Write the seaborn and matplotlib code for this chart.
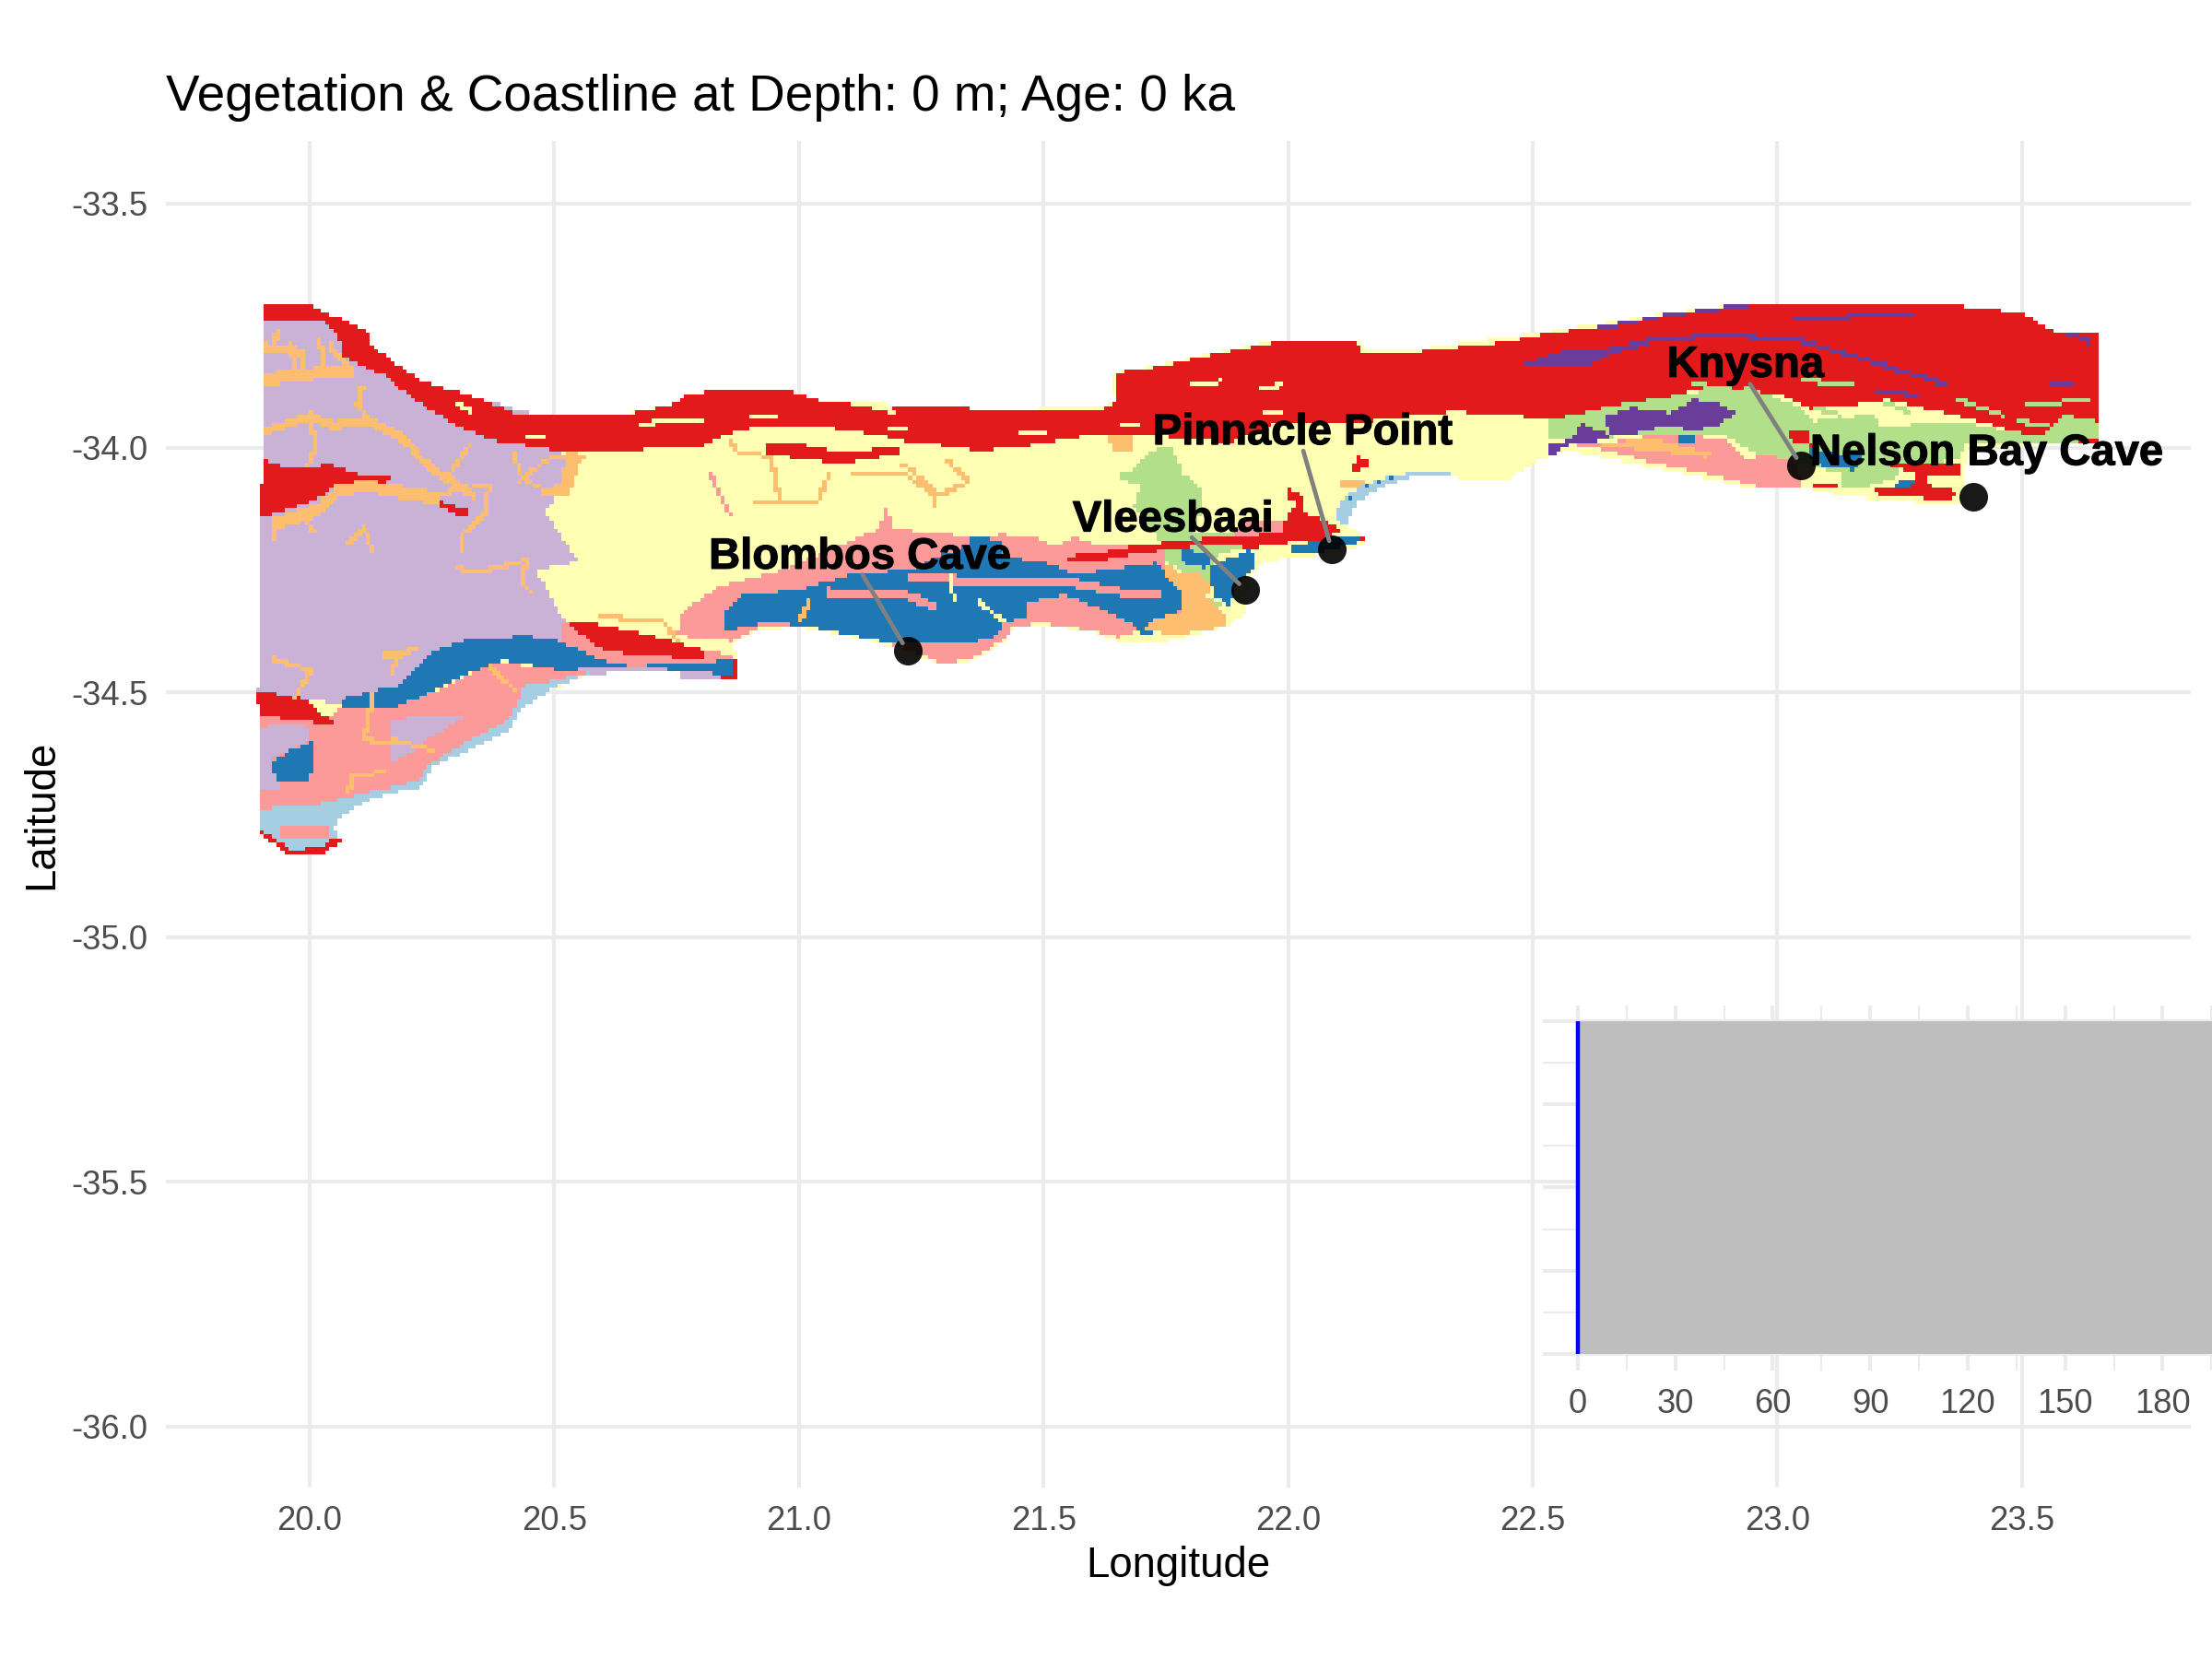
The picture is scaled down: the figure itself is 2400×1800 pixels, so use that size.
import numpy as np
import seaborn as sns
import matplotlib
matplotlib.use('Agg')
import matplotlib.pyplot as plt
import matplotlib.patheffects as pe
from matplotlib.colors import ListedColormap
from matplotlib.path import Path

# vegetation classes
veg_colors = ['#FFFFB3', '#CAB2D6', '#FB9A99', '#A6CEE3', '#1F78B4', '#E31A1C', '#FDBF6F', '#B2DF8A', '#6A3D9A']
YEL, LAV, PINK, LBLUE, BLUE, RED, ORA, GRN, PUR = range(9)

# land outline, lon/lat
land = [(19.904,-33.710),(20.006,-33.710),(20.045,-33.728),(20.126,-33.767),(20.126,-33.790),(20.222,-33.860),
        (20.347,-33.900),(20.463,-33.932),(20.636,-33.932),(20.741,-33.911),(20.770,-33.892),(20.857,-33.878),
        (20.972,-33.880),(21.039,-33.903),(21.183,-33.911),(21.345,-33.919),(21.417,-33.921),(21.619,-33.916),
        (21.651,-33.901),(21.637,-33.882),(21.637,-33.847),(21.727,-33.832),(21.893,-33.797),(21.965,-33.780),
        (22.138,-33.780),(22.160,-33.800),(22.268,-33.797),(22.427,-33.775),(22.476,-33.770),(22.629,-33.747),
        (22.764,-33.725),(22.935,-33.705),(23.332,-33.705),(23.503,-33.725),(23.566,-33.763),(23.656,-33.769),
        (23.656,-33.989),(23.548,-33.992),(23.386,-34.000),(23.386,-34.033),(23.377,-34.114),(23.286,-34.111),
        (23.142,-34.099),(23.061,-34.083),(22.962,-34.086),(22.881,-34.067),(22.728,-34.036),(22.566,-34.004),
        (22.512,-34.026),(22.448,-34.064),(22.376,-34.067),(22.333,-34.058),(22.246,-34.061),(22.196,-34.077),
        (22.138,-34.114),(22.120,-34.158),(22.153,-34.180),(22.153,-34.199),(22.066,-34.218),(21.958,-34.230),
        (21.922,-34.262),(21.915,-34.337),(21.879,-34.362),(21.835,-34.375),(21.749,-34.397),(21.655,-34.397),
        (21.597,-34.375),(21.496,-34.362),(21.439,-34.369),(21.417,-34.397),(21.367,-34.428),(21.345,-34.438),
        (21.289,-34.442),(21.260,-34.431),(21.145,-34.392),(21.001,-34.367),(20.914,-34.372),(20.861,-34.399),
        (20.876,-34.431),(20.876,-34.473),(20.761,-34.473),(20.751,-34.454),(20.578,-34.462),(20.492,-34.493),
        (20.434,-34.532),(20.405,-34.579),(20.328,-34.618),(20.251,-34.649),(20.232,-34.692),(20.126,-34.716),
        (20.069,-34.751),(20.049,-34.774),(20.067,-34.805),(20.021,-34.833),(19.958,-34.833),(19.896,-34.786),
        (19.894,-34.501),(19.899,-34.142),(19.904,-34.040)]

lav_west = [(19.904,-33.710),(20.126,-33.767),(20.222,-33.860),(20.347,-33.900),(20.463,-33.932),(20.636,-33.932),
            (20.511,-34.001),(20.530,-34.048),(20.482,-34.134),(20.525,-34.196),(20.549,-34.231),(20.463,-34.251),
            (20.511,-34.337),(20.540,-34.368),(20.511,-34.395),(20.376,-34.438),
            (20.069,-34.524),(19.894,-34.501),(19.899,-34.142),(19.904,-34.040)]
pink_sw = [(20.069,-34.524),(20.126,-34.528),(20.270,-34.493),(20.376,-34.438),(20.511,-34.454),(20.578,-34.458),
           (20.492,-34.493),(20.434,-34.532),(20.405,-34.579),(20.328,-34.618),(20.251,-34.649),(20.232,-34.692),
           (20.126,-34.716),(20.069,-34.751),(20.049,-34.774),(20.067,-34.805),(20.021,-34.833),(19.958,-34.833),
           (19.896,-34.786),(19.894,-34.696),(19.894,-34.540),(20.040,-34.550)]
pink_s = [(20.511,-34.352),(20.568,-34.356),(20.799,-34.411),(20.861,-34.423),(20.861,-34.438),(20.655,-34.446),
          (20.588,-34.431),(20.511,-34.395)]
lav_sliver = [(20.511,-34.454),(20.655,-34.448),(20.761,-34.454),(20.837,-34.462),(20.837,-34.473),(20.761,-34.473),
              (20.751,-34.456),(20.583,-34.462)]
lav_sw1 = [(19.894,-34.571),(19.992,-34.563),(20.001,-34.595),(19.924,-34.634),(19.944,-34.696),(19.894,-34.696)]
lav_sw2 = [(20.165,-34.555),(20.251,-34.548),(20.319,-34.548),(20.242,-34.595),(20.222,-34.618),(20.165,-34.641)]
lblue_sw = [(20.578,-34.458),(20.492,-34.493),(20.434,-34.532),(20.405,-34.579),(20.328,-34.618),(20.251,-34.649),
            (20.232,-34.692),(20.126,-34.716),(20.069,-34.751),(20.049,-34.774),(20.067,-34.805),(20.021,-34.833),
            (19.958,-34.833),(19.896,-34.786),(19.894,-34.743),(19.963,-34.727),(20.006,-34.731),(20.117,-34.704),
            (20.222,-34.681),(20.242,-34.649),(20.319,-34.602),(20.405,-34.555),(20.424,-34.524),(20.439,-34.485),
            (20.492,-34.477)]
pink_tip = [(19.939,-34.778),(19.963,-34.770),(20.040,-34.774),(20.040,-34.794),(19.944,-34.798)]
blue_sw = [(20.064,-34.528),(20.069,-34.513),(20.126,-34.497),(20.174,-34.489),(20.213,-34.454),(20.251,-34.415),
           (20.319,-34.392),(20.443,-34.384),(20.511,-34.395),(20.588,-34.431),(20.655,-34.446),(20.861,-34.434),
           (20.866,-34.466),(20.761,-34.454),(20.655,-34.448),(20.511,-34.454),(20.395,-34.434),(20.319,-34.462),
           (20.242,-34.501),(20.174,-34.532),(20.126,-34.536)]
blue_lake = [(19.920,-34.641),(19.963,-34.618),(20.006,-34.599),(20.006,-34.649),(19.997,-34.680),(19.934,-34.680)]

pink_blombos = [(20.751,-34.384),(20.761,-34.337),(20.837,-34.282),(20.962,-34.251),(21.164,-34.165),(21.179,-34.122),
                (21.193,-34.165),(21.345,-34.181),(21.417,-34.177),(21.482,-34.183),(21.522,-34.202),(21.561,-34.183),
                (21.601,-34.190),(21.605,-34.202),(21.749,-34.202),(21.749,-34.253),(21.792,-34.290),(21.778,-34.340),
                (21.655,-34.387),(21.597,-34.372),(21.496,-34.358),(21.439,-34.365),(21.417,-34.393),(21.367,-34.424),
                (21.345,-34.434),(21.289,-34.438),(21.260,-34.427),(21.145,-34.388),(21.001,-34.363),(20.914,-34.368),
                (20.861,-34.395)]
blue_blombos = [(20.847,-34.376),(20.847,-34.337),(20.885,-34.302),(21.001,-34.290),(21.116,-34.255),(21.222,-34.251),
                (21.345,-34.196),(21.345,-34.180),(21.417,-34.190),(21.417,-34.221),(21.518,-34.237),(21.561,-34.259),
                (21.648,-34.246),(21.734,-34.234),(21.756,-34.271),(21.778,-34.284),(21.792,-34.315),(21.778,-34.334),
                (21.763,-34.359),(21.706,-34.384),(21.684,-34.359),(21.583,-34.315),(21.540,-34.300),(21.468,-34.315),
                (21.464,-34.347),(21.417,-34.359),(21.403,-34.384),(21.345,-34.399),(21.270,-34.400),(21.183,-34.399),
                (21.087,-34.378),(21.001,-34.362),(20.924,-34.358)]
ora_vlees = [(21.749,-34.234),(21.778,-34.253),(21.821,-34.256),(21.842,-34.278),(21.835,-34.303),(21.879,-34.347),
             (21.871,-34.362),(21.835,-34.375),(21.749,-34.381),(21.706,-34.369),(21.720,-34.353),(21.785,-34.334),
             (21.785,-34.296),(21.770,-34.284),(21.749,-34.265)]
grn_vlees = [(21.648,-34.058),(21.691,-34.039),(21.713,-34.008),(21.763,-33.995),(21.785,-34.052),(21.821,-34.083),
             (21.828,-34.114),(21.806,-34.171),(21.922,-34.177),(21.922,-34.202),(21.864,-34.215),(21.835,-34.246),
             (21.842,-34.278),(21.835,-34.303),(21.871,-34.325),(21.842,-34.322),(21.778,-34.246),(21.749,-34.234),
             (21.742,-34.196),(21.684,-34.121),(21.698,-34.077)]
blue_vlees1 = [(21.835,-34.246),(21.922,-34.208),(21.936,-34.234),(21.915,-34.265),(21.893,-34.284),(21.879,-34.322),
               (21.850,-34.303),(21.842,-34.278)]
blue_vlees2 = [(21.778,-34.208),(21.842,-34.215),(21.835,-34.246),(21.778,-34.234)]
pink_vlees = [(21.886,-34.165),(21.929,-34.146),(21.994,-34.146),(21.990,-34.171),(21.929,-34.183),(21.900,-34.190)]

lblue_pp = [(22.098,-34.146),(22.098,-34.127),(22.113,-34.102),(22.153,-34.077),(22.203,-34.058),(22.246,-34.052),
            (22.333,-34.048),(22.333,-34.058),(22.246,-34.061),(22.196,-34.077),(22.138,-34.114),(22.120,-34.158)]
blue_pp = [(22.113,-34.111),(22.153,-34.083),(22.203,-34.061),(22.225,-34.058),(22.160,-34.077),(22.124,-34.108)]
blue_pp2 = [(22.008,-34.202),(22.066,-34.186),(22.149,-34.183),(22.149,-34.193),(22.066,-34.212),(22.008,-34.212)]

red_west_band = [(19.904,-33.710),(20.006,-33.710),(20.045,-33.728),(20.126,-33.767),(20.126,-33.790),(20.222,-33.860),
                 (20.347,-33.900),(20.434,-33.935),(20.636,-33.935),(20.741,-33.911),(20.770,-33.892),(20.857,-33.878),
                 (20.972,-33.880),(21.039,-33.903),(21.183,-33.919),(21.345,-33.919),(21.345,-34.000),(21.203,-33.985),
                 (21.183,-33.978),(21.058,-33.958),(20.924,-33.954),(20.837,-33.978),(20.789,-34.001),(20.511,-34.005),
                 (20.376,-33.985),(20.299,-33.954),(20.222,-33.907),(20.155,-33.853),(20.069,-33.814),(20.064,-33.782),
                 (20.030,-33.743),(19.904,-33.743)]
red_tongue = [(20.929,-33.993),(21.010,-33.993),(21.087,-34.009),(21.203,-33.997),(21.203,-34.013),(21.087,-34.032),
              (21.020,-34.024),(20.934,-34.013)]
red_inland = [(19.904,-34.024),(19.963,-34.044),(20.040,-34.034),(20.107,-34.056),(20.165,-34.056),(20.155,-34.075),
              (20.232,-34.095),(20.290,-34.118),(20.328,-34.122),(20.323,-34.142),(20.299,-34.138),(20.251,-34.114),
              (20.155,-34.079),(20.069,-34.071),(20.001,-34.110),(19.900,-34.142),(19.899,-34.048)]
red_sw = [(19.894,-34.497),(19.982,-34.509),(20.045,-34.559),(20.045,-34.567),(19.963,-34.555),(19.894,-34.548)]
red_s = [(20.520,-34.352),(20.568,-34.356),(20.684,-34.380),(20.799,-34.411),(20.809,-34.431),(20.655,-34.423),
         (20.597,-34.411),(20.559,-34.384)]
red_corner = [(20.861,-34.431),(20.876,-34.431),(20.876,-34.473),(20.837,-34.470),(20.861,-34.462)]
red_tip = [(19.896,-34.786),(19.958,-34.833),(20.021,-34.833),(20.067,-34.805),(20.054,-34.794),(20.021,-34.817),
           (19.963,-34.821),(19.905,-34.782)]
red_mid_band = [(21.345,-33.920),(21.417,-33.920),(21.619,-33.923),(21.651,-33.904),(21.644,-33.847),(21.727,-33.835),
                (21.893,-33.800),(21.965,-33.785),(22.138,-33.785),(22.156,-33.810),(22.268,-33.803),(22.427,-33.785),
                (22.476,-33.781),(22.476,-33.932),(22.333,-33.926),(22.167,-33.945),(22.102,-33.951),(21.979,-33.945),
                (21.886,-33.989),(21.677,-33.970),(21.583,-33.976),(21.453,-33.998),(21.345,-34.007)]
red_vlees_strip = [(21.540,-34.221),(21.612,-34.215),(21.677,-34.202),(21.749,-34.193),(21.850,-34.183),(21.994,-34.174),
                   (22.153,-34.180),(22.153,-34.190),(22.008,-34.193),(21.943,-34.202),(21.936,-34.208),(21.864,-34.196),
                   (21.778,-34.205),(21.677,-34.218),(21.605,-34.234),(21.540,-34.227)]
red_wedge = [(21.997,-34.077),(22.030,-34.102),(22.034,-34.133),(22.073,-34.146),(22.102,-34.161),(22.109,-34.174),
             (21.987,-34.177),(21.994,-34.146),(22.016,-34.114),(21.997,-34.102)]
red_small = [(22.131,-34.045),(22.145,-34.017),(22.171,-34.030),(22.145,-34.048)]

red_east_band = [(22.476,-33.775),(22.629,-33.753),(22.764,-33.728),(22.935,-33.709),(23.332,-33.705),(23.503,-33.725),
                 (23.566,-33.763),(23.656,-33.769),(23.656,-33.989),(23.539,-33.992),(23.458,-33.957),(23.358,-33.932),
                 (23.223,-33.901),(23.151,-33.913),(23.070,-33.920),(23.016,-33.895),(22.944,-33.882),(22.836,-33.882),
                 (22.746,-33.901),(22.647,-33.917),(22.593,-33.945),(22.476,-33.935)]
grn_east = [(22.530,-33.945),(22.647,-33.917),(22.818,-33.888),(22.944,-33.876),(23.052,-33.920),(23.070,-33.945),
            (23.196,-33.932),(23.214,-33.957),(23.367,-33.945),(23.467,-33.964),(23.539,-33.976),(23.584,-33.932),
            (23.656,-33.945),(23.656,-33.982),(23.539,-33.992),(23.386,-33.992),(23.367,-34.026),(23.250,-34.033),
            (23.250,-34.058),(23.196,-34.077),(23.133,-34.086),(23.124,-34.052),(23.034,-34.026),(22.944,-34.008),
            (22.899,-33.976),(22.773,-33.970),(22.647,-33.979),(22.566,-33.982),(22.530,-33.982)]
pur_east1 = [(22.647,-33.935),(22.701,-33.917),(22.782,-33.929),(22.827,-33.901),(22.872,-33.907),(22.917,-33.929),
             (22.872,-33.957),(22.827,-33.964),(22.782,-33.957),(22.719,-33.964),(22.710,-33.976),(22.656,-33.970)]
pur_east2 = [(22.530,-33.995),(22.575,-33.982),(22.602,-33.951),(22.647,-33.970),(22.656,-33.982),(22.566,-33.995),(22.539,-34.020)]
pur_band = [(22.476,-33.829),(22.566,-33.800),(22.656,-33.794),(22.746,-33.775),(22.863,-33.766),(23.043,-33.772),
            (23.052,-33.781),(22.863,-33.775),(22.746,-33.785),(22.665,-33.807),(22.611,-33.832),(22.476,-33.832)]
pur_top = [(22.629,-33.753),(22.764,-33.728),(22.935,-33.705),(22.980,-33.705),(22.935,-33.712),(22.764,-33.734),(22.638,-33.760)]
pink_east = [(22.602,-33.992),(22.656,-33.989),(22.773,-33.970),(22.899,-33.982),(22.935,-34.026),(22.989,-34.008),
             (23.034,-34.026),(23.052,-34.080),(22.962,-34.080),(22.881,-34.058),(22.728,-34.026),(22.638,-34.001),(22.566,-33.999)]
ora_east = [(22.647,-33.989),(22.746,-33.982),(22.863,-34.011),(22.854,-34.020),(22.728,-34.004),(22.629,-33.998)]
red_se = [(23.223,-34.033),(23.376,-34.033),(23.376,-34.052),(23.304,-34.058),(23.313,-34.077),(23.367,-34.089),
          (23.358,-34.105),(23.214,-34.099),(23.196,-34.086),(23.277,-34.077),(23.286,-34.052)]
yel_se = [(23.304,-34.064),(23.367,-34.064),(23.367,-34.089),(23.313,-34.077)]
red_kn1 = [(23.052,-34.083),(23.106,-34.070),(23.133,-34.083),(23.061,-34.086)]
red_kn2 = [(23.016,-33.964),(23.061,-33.964),(23.070,-33.995),(23.034,-33.989)]
yel_kn = [(23.079,-34.045),(23.133,-34.052),(23.133,-34.064),(23.079,-34.064)]
blue_kn1 = [(23.061,-34.001),(23.178,-34.020),(23.160,-34.045),(23.106,-34.042),(23.070,-34.026)]
blue_kn2 = [(23.250,-34.061),(23.286,-34.067),(23.268,-34.083),(23.241,-34.083)]
blue_kn3 = [(22.800,-33.976),(22.831,-33.976),(22.831,-33.992),(22.804,-33.992)]
ora_block1 = [(21.633,-33.976),(21.680,-33.976),(21.677,-34.008),(21.641,-34.008)]
ora_block2 = [(22.109,-34.064),(22.160,-34.070),(22.131,-34.086),(22.102,-34.077)]
ora_block3 = [(20.530,-34.001),(20.559,-34.017),(20.530,-34.095),(20.472,-34.095),(20.511,-34.071)]

# painted in this order, later ones cover earlier ones
patches = [(YEL, land), (LAV, lav_west), (PINK, pink_sw), (PINK, pink_s), (LBLUE, lblue_sw), (PINK, pink_tip),
           (LAV, lav_sw1), (LAV, lav_sw2), (BLUE, blue_sw), (LAV, lav_sliver), (BLUE, blue_lake), (PINK, pink_blombos),
           (BLUE, blue_blombos), (GRN, grn_vlees), (ORA, ora_vlees), (BLUE, blue_vlees1), (BLUE, blue_vlees2),
           (PINK, pink_vlees), (LBLUE, lblue_pp), (BLUE, blue_pp), (ORA, ora_block1), (ORA, ora_block2),
           (ORA, ora_block3), (RED, red_west_band), (RED, red_tongue), (RED, red_inland), (RED, red_sw), (RED, red_s),
           (RED, red_corner), (RED, red_tip), (RED, red_mid_band), (RED, red_vlees_strip), (RED, red_wedge),
           (RED, red_small), (BLUE, blue_pp2), (RED, red_east_band), (PINK, pink_east), (ORA, ora_east), (GRN, grn_east),
           (PUR, pur_east1), (PUR, pur_east2), (PUR, pur_band), (PUR, pur_top), (RED, red_se), (YEL, yel_se),
           (RED, red_kn1), (RED, red_kn2), (YEL, yel_kn), (BLUE, blue_kn1), (BLUE, blue_kn2), (BLUE, blue_kn3)]

# streams and thin strips: class, width in cells, lon/lat line
streams = [(ORA, 3, [(19.905,-33.853),(19.982,-33.841),(20.088,-33.837)]),
           (ORA, 2, [(19.910,-33.790),(19.982,-33.802),(19.982,-33.841)]),
           (ORA, 2, [(20.040,-33.790),(20.088,-33.837)]),
           (ORA, 2, [(19.934,-33.759),(19.924,-33.798)]),
           (ORA, 2, [(19.963,-33.782),(19.972,-33.837)]),
           (ORA, 2, [(20.021,-33.775),(20.030,-33.829)]),
           (ORA, 2, [(19.905,-33.962),(20.001,-33.931),(20.049,-33.950),(20.117,-33.939),(20.194,-33.978),(20.232,-34.024),(20.338,-34.095)]),
           (ORA, 1, [(20.001,-33.931),(20.011,-33.999),(19.997,-34.032)]),
           (ORA, 1, [(20.117,-33.939),(20.097,-33.915),(20.107,-33.876)]),
           (ORA, 1, [(20.232,-34.024),(20.261,-34.056),(20.290,-34.048),(20.328,-33.993)]),
           (ORA, 3, [(19.924,-34.149),(20.021,-34.118),(20.059,-34.075),(20.126,-34.071),(20.261,-34.095)]),
           (ORA, 1, [(20.261,-34.095),(20.367,-34.075),(20.357,-34.134)]),
           (ORA, 1, [(20.357,-34.134),(20.309,-34.181),(20.309,-34.212)]),
           (ORA, 1, [(20.415,-34.009),(20.434,-34.063),(20.482,-34.087)]),
           (ORA, 1, [(20.424,-34.071),(20.482,-34.024),(20.559,-34.017)]),
           (ORA, 1, [(20.078,-34.196),(20.112,-34.165),(20.126,-34.208)]),
           (ORA, 1, [(20.299,-34.247),(20.347,-34.255),(20.434,-34.231)]),
           (ORA, 1, [(20.443,-34.228),(20.434,-34.274),(20.453,-34.298)]),
           (ORA, 1, [(19.934,-34.149),(19.924,-34.188)]),
           (ORA, 1, [(19.982,-34.134),(20.011,-34.173)]),
           (ORA, 1, [(19.924,-34.431),(20.001,-34.454),(19.973,-34.509)]),
           (ORA, 1, [(20.155,-34.431),(20.184,-34.423),(20.165,-34.462)]),
           (ORA, 1, [(20.155,-34.423),(20.222,-34.411)]),
           (ORA, 1, [(20.126,-34.501),(20.121,-34.563),(20.107,-34.595),(20.184,-34.606)]),
           (ORA, 1, [(20.165,-34.595),(20.251,-34.618)]),
           (ORA, 1, [(20.078,-34.704),(20.088,-34.673),(20.155,-34.661)]),
           (ORA, 1, [(20.367,-34.446),(20.415,-34.493)]),
           (ORA, 1, [(20.857,-33.985),(20.876,-34.009),(20.943,-34.017),(20.962,-34.110),(20.909,-34.110)]),
           (ORA, 1, [(20.962,-34.110),(21.039,-34.110),(21.063,-34.052)]),
           (ORA, 1, [(21.111,-34.052),(21.222,-34.056),(21.279,-34.099),(21.345,-34.071)]),
           (ORA, 1, [(21.212,-34.032),(21.279,-34.087),(21.279,-34.118)]),
           (ORA, 1, [(21.299,-34.024),(21.345,-34.064)]),
           (ORA, 1, [(20.597,-34.345),(20.722,-34.356),(20.751,-34.392)]),
           (ORA, 1, [(21.020,-34.313),(21.005,-34.352)]),
           (PINK, 1, [(20.818,-34.052),(20.857,-34.134)]),
           (PINK, 2, [(21.345,-34.268),(21.439,-34.271),(21.554,-34.271),(21.655,-34.290),(21.734,-34.296)]),
           (PINK, 2, [(21.058,-34.290),(21.222,-34.298),(21.279,-34.321)]),
           (PINK, 2, [(21.231,-34.259),(21.345,-34.267)]),
           (YEL, 1, [(21.367,-34.315),(21.417,-34.353)]),
           (YEL, 1, [(21.308,-34.259),(21.318,-34.313)]),
           (YEL, 1, [(20.674,-33.950),(20.799,-33.943)]),
           (YEL, 1, [(20.900,-33.937),(20.950,-33.936)]),
           (YEL, 1, [(21.183,-33.957),(21.222,-33.957)]),
           (YEL, 1, [(21.150,-33.920),(21.190,-33.924)]),
           (YEL, 1, [(20.440,-33.975),(20.480,-33.977)]),
           (YEL, 1, [(20.300,-33.910),(20.330,-33.925)]),
           (YEL, 1, [(21.450,-33.968),(21.500,-33.968)]),
           (YEL, 1, [(21.660,-33.955),(21.690,-33.955)]),
           (YEL, 1, [(21.800,-33.870),(21.860,-33.865)]),
           (YEL, 1, [(21.940,-33.880),(21.985,-33.872)]),
           (YEL, 1, [(21.950,-33.930),(21.985,-33.925)]),
           (PUR, 1, [(23.052,-33.781),(23.196,-33.825),(23.340,-33.869)]),
           (PUR, 1, [(23.034,-33.737),(23.277,-33.725)]),
           (PUR, 1, [(23.205,-33.882),(23.286,-33.894)]),
           (PUR, 1, [(23.557,-33.866),(23.602,-33.866)]),
           (PUR, 1, [(23.539,-33.744),(23.638,-33.782)]),
           (GRN, 1, [(22.827,-33.869),(22.908,-33.882)]),
           (GRN, 1, [(23.052,-33.863),(23.151,-33.869)]),
           (GRN, 1, [(23.367,-33.901),(23.458,-33.932)]),
           (GRN, 1, [(23.223,-33.907),(23.268,-33.926)]),
           (GRN, 1, [(23.079,-33.920),(23.124,-33.932)]),
           (GRN, 1, [(23.512,-33.910),(23.638,-33.904)]),
           (GRN, 1, [(23.494,-33.945),(23.557,-33.957)])]

# sites
site_names = ['Blombos Cave', 'Vleesbaai', 'Pinnacle Point', 'Knysna', 'Nelson Bay Cave']
site_lon = [21.222, 21.913, 22.089, 23.049, 23.400]
site_lat = [-34.415, -34.291, -34.207, -34.035, -34.100]
label_lon = [21.125, 21.765, 22.030, 22.935, 23.428]
label_lat = [-34.224, -34.148, -33.970, -33.832, -34.012]
seg_lon = [21.130, 21.803, 22.031, 22.944]
seg_lat = [-34.259, -34.183, -34.006, -33.869]
seg_end_lon = [21.212, 21.900, 22.084, 23.039]
seg_end_lat = [-34.399, -34.278, -34.190, -34.020]

# inset: sea level curve panel
inset_age = [0, 216]
inset_depth = [0, -120]
inset_major_x = [0, 30, 60, 90, 120, 150, 180]
inset_minor_x = [15, 45, 75, 105, 135, 165, 195]
inset_major_y = [0, -30, -60, -90, -120]
inset_minor_y = [-15, -45, -75, -105]

x_ticks = [20.0, 20.5, 21.0, 21.5, 22.0, 22.5, 23.0, 23.5]
y_ticks = [-33.5, -34.0, -34.5, -35.0, -35.5, -36.0]

# raster on a 30 arc second grid
cell = 1 / 120
lon_edges = np.arange(19.89, 23.67, cell)
lat_edges = np.arange(-34.84, -33.70, cell)
lon_mid = (lon_edges[:-1] + lon_edges[1:]) / 2
lat_mid = (lat_edges[:-1] + lat_edges[1:]) / 2
gx, gy = np.meshgrid(lon_mid, lat_mid)
pts = np.column_stack([gx.ravel(), gy.ravel()])
grid = np.full(gx.shape, np.nan)

land_mask = Path(land).contains_points(pts).reshape(gx.shape)
for veg, poly in patches:
    grid[Path(poly).contains_points(pts).reshape(gx.shape)] = veg

for veg, width, line in streams:
    for (x0, y0), (x1, y1) in zip(line[:-1], line[1:]):
        n = int(max(abs(x1 - x0), abs(y1 - y0)) / cell * 2) + 2
        cols = np.searchsorted(lon_edges, np.linspace(x0, x1, n)) - 1
        rows = np.searchsorted(lat_edges, np.linspace(y0, y1, n)) - 1
        for w in range(width):
            grid[np.clip(rows - w, 0, grid.shape[0] - 1), np.clip(cols, 0, grid.shape[1] - 1)] = veg
grid[~land_mask] = np.nan

sns.set_theme(style='whitegrid')
plt.rcParams['font.family'] = ['Liberation Sans', 'DejaVu Sans']
grid_col = '#EBEBEB'
text_col = '#4D4D4D'

W, H = 2400, 1800
fig = plt.figure(figsize=(12, 9), dpi=200)
left, right, top, bottom = 180, 2377, 153, 1614
ax = fig.add_axes([left / W, 1 - bottom / H, (right - left) / W, (bottom - top) / H])
ax.set_xlim(20 + (left - 336) / 530.8, 20 + (right - 336) / 530.8)
ax.set_ylim(-34 - (bottom - 486) / 530.8, -34 - (top - 486) / 530.8)

ax.pcolormesh(lon_edges, lat_edges, np.ma.masked_invalid(grid), cmap=ListedColormap(veg_colors),
              vmin=-0.5, vmax=8.5, shading='flat', antialiased=False, linewidth=0, zorder=2)

sns.scatterplot(x=site_lon, y=site_lat, ax=ax, color='black', alpha=0.9, s=125, linewidth=0, zorder=3)
for x0, y0, x1, y1 in zip(seg_lon, seg_lat, seg_end_lon, seg_end_lat):
    ax.plot([x0, x1], [y0, y1], color='#808080', lw=1.7, solid_capstyle='round', zorder=4)
for name, x, y in zip(site_names, label_lon, label_lat):
    ax.text(x, y, name, ha='center', va='center', fontsize=17, fontweight='bold', color='black', zorder=5,
            path_effects=[pe.withStroke(linewidth=0.4, foreground='black')])

ax.set_xticks(x_ticks)
ax.set_xticklabels([f'{t:.1f}' for t in x_ticks])
ax.set_yticks(y_ticks)
ax.set_yticklabels([f'{t:.1f}' for t in y_ticks])
ax.grid(True, color=grid_col, lw=1.5)
ax.set_axisbelow(True)
ax.tick_params(length=0, labelsize=13.1, labelcolor=text_col, pad=7)
for s in ax.spines.values():
    s.set_visible(False)
ax.set_xlabel('Longitude', fontsize=16.4, color='black', labelpad=3)
ax.set_ylabel('Latitude', fontsize=16.4, color='black', labelpad=3.5)
ax.set_title('Vegetation & Coastline at Depth: 0 m; Age: 0 ka', fontsize=19.75, color='black', loc='left', pad=12)

# inset, runs off the right side of the figure
i_left, i_right, i_top, i_bottom = 1674, 2512, 1091, 1487
ins = fig.add_axes([i_left / W, 1 - i_bottom / H, (i_right - i_left) / W, (i_bottom - i_top) / H])
ins.patch.set_alpha(0)
ins.set_xlim(-10.8, 227)
ins.set_ylim(-126, 5.6)
ins.fill_between(inset_age, inset_depth[1], inset_depth[0], color='#BEBEBE', linewidth=0, zorder=2)
sns.lineplot(x=[inset_age[0], inset_age[0]], y=inset_depth, ax=ins, color='blue', lw=1.6, zorder=3, errorbar=None,
             estimator=None, solid_capstyle='butt')
ins.set_xticks(inset_major_x)
ins.set_xticklabels([str(t) for t in inset_major_x])
ins.set_yticks(inset_major_y)
ins.set_yticklabels([])
ins.set_xticks(inset_minor_x, minor=True)
ins.set_yticks(inset_minor_y, minor=True)
ins.grid(True, which='major', color=grid_col, lw=1.5)
ins.grid(True, which='minor', color=grid_col, lw=0.75)
ins.set_axisbelow(True)
ins.tick_params(which='both', length=0, labelsize=13.1, labelcolor=text_col, pad=7)
for s in ins.spines.values():
    s.set_visible(False)

fig.savefig('out.png', dpi=200)
